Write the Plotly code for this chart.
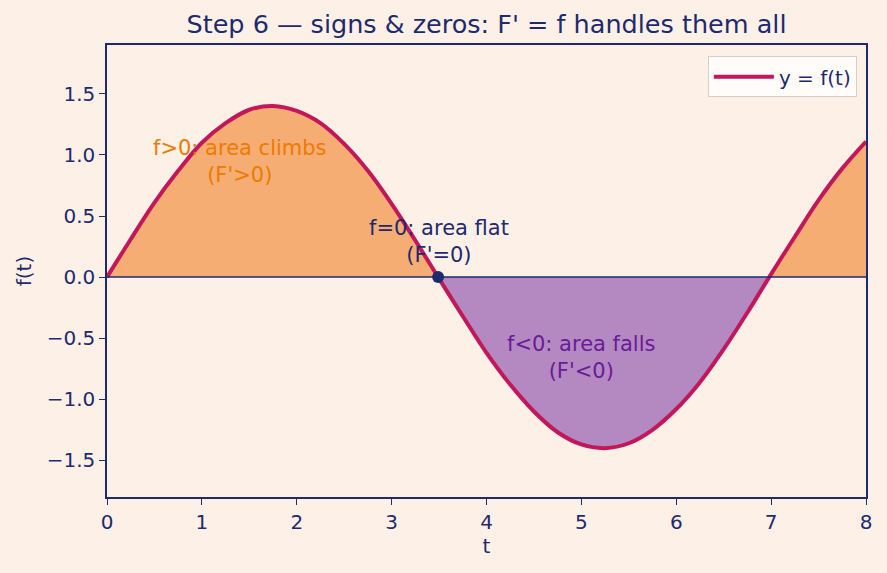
import plotly.graph_objects as go

# Data
t_vals = [0, 0.25, 0.5, 0.75, 1.0, 1.25, 1.5, 1.75, 2.0, 2.25, 2.5, 2.75, 3.0, 3.25, 3.49,
          3.75, 4.0, 4.25, 4.5, 4.75, 5.0, 5.25, 5.5, 5.75, 6.0, 6.25, 6.5, 6.75, 6.98,
          7.25, 7.5, 7.75, 8.0]
f_vals = [0.0, 0.31, 0.61, 0.87, 1.10, 1.26, 1.37, 1.40, 1.36, 1.26, 1.09, 0.87, 0.60, 0.30, 0.0,
          -0.32, -0.62, -0.88, -1.10, -1.27, -1.37, -1.40, -1.36, -1.25, -1.08, -0.86, -0.59, -0.29, 0.0,
          0.33, 0.63, 0.89, 1.11]
zero_t = 3.49
x_ticks = [0, 1, 2, 3, 4, 5, 6, 7, 8]
y_ticks = [-1.5, -1.0, -0.5, 0.0, 0.5, 1.0, 1.5]
y_tick_text = ["−1.5", "−1.0", "−0.5", "0.0", "0.5", "1.0", "1.5"]

NAVY = "#1f2a6e"
BG = "#fdf1e7"
ORANGE_FILL = "rgba(240,140,60,0.68)"
PURPLE_FILL = "rgba(120,50,160,0.55)"
LINE = "#c2185b"

# split into segments by sign
i1 = t_vals.index(3.49)
i2 = t_vals.index(6.98)
segs = [
    (t_vals[:i1 + 1], f_vals[:i1 + 1], ORANGE_FILL),
    (t_vals[i1:i2 + 1], f_vals[i1:i2 + 1], PURPLE_FILL),
    (t_vals[i2:], f_vals[i2:], ORANGE_FILL),
]

fig = go.Figure()
for tx, fy, col in segs:
    fig.add_trace(go.Scatter(x=tx, y=fy, mode="lines", line=dict(width=0, shape="spline"),
                             fill="tozeroy", fillcolor=col, showlegend=False, hoverinfo="skip"))

fig.add_hline(y=0, line=dict(color=NAVY, width=1.5))

fig.add_trace(go.Scatter(x=t_vals, y=f_vals, mode="lines", name="y = f(t)",
                         line=dict(color=LINE, width=4, shape="spline")))
fig.add_trace(go.Scatter(x=[zero_t], y=[0], mode="markers", showlegend=False,
                         marker=dict(color=NAVY, size=12)))

fig.add_annotation(x=1.4, y=0.95, text="f>0: area climbs<br>(F'>0)", showarrow=False,
                   font=dict(color="#ee7a00", size=21))
fig.add_annotation(x=3.5, y=0.29, text="f=0: area flat<br>(F'=0)", showarrow=False,
                   font=dict(color=NAVY, size=21))
fig.add_annotation(x=5.0, y=-0.66, text="f<0: area falls<br>(F'<0)", showarrow=False,
                   font=dict(color="#6a1b9a", size=21))

axis_common = dict(showline=True, linecolor=NAVY, linewidth=1.5, mirror=True, ticks="outside",
                   tickcolor=NAVY, ticklen=6, showgrid=False, zeroline=False,
                   tickfont=dict(color=NAVY, size=20), title_font=dict(color=NAVY, size=20))

fig.update_xaxes(range=[0, 8], tickvals=x_ticks, title_text="t", title_standoff=6, **axis_common)
fig.update_yaxes(range=[-1.8, 1.9], tickvals=y_ticks, ticktext=y_tick_text, title_text="f(t)",
                 title_standoff=10, **axis_common)

fig.update_layout(
    width=887, height=573,
    margin=dict(l=107, r=21, t=45, b=76),
    paper_bgcolor=BG, plot_bgcolor=BG,
    font=dict(family="DejaVu Sans", color=NAVY),
    title=dict(text="Step 6 — signs & zeros: F' = f handles them all", x=0.5485, xanchor="center",
               y=0.958, yanchor="middle", font=dict(size=25.5, color=NAVY)),
    legend=dict(x=0.988, y=0.975, xanchor="right", yanchor="top", bgcolor="rgba(255,255,255,0.8)",
                bordercolor="#d0d0d0", borderwidth=1, font=dict(size=20, color=NAVY),
                itemwidth=60),
    showlegend=True,
)

fig.write_html("out.html")
